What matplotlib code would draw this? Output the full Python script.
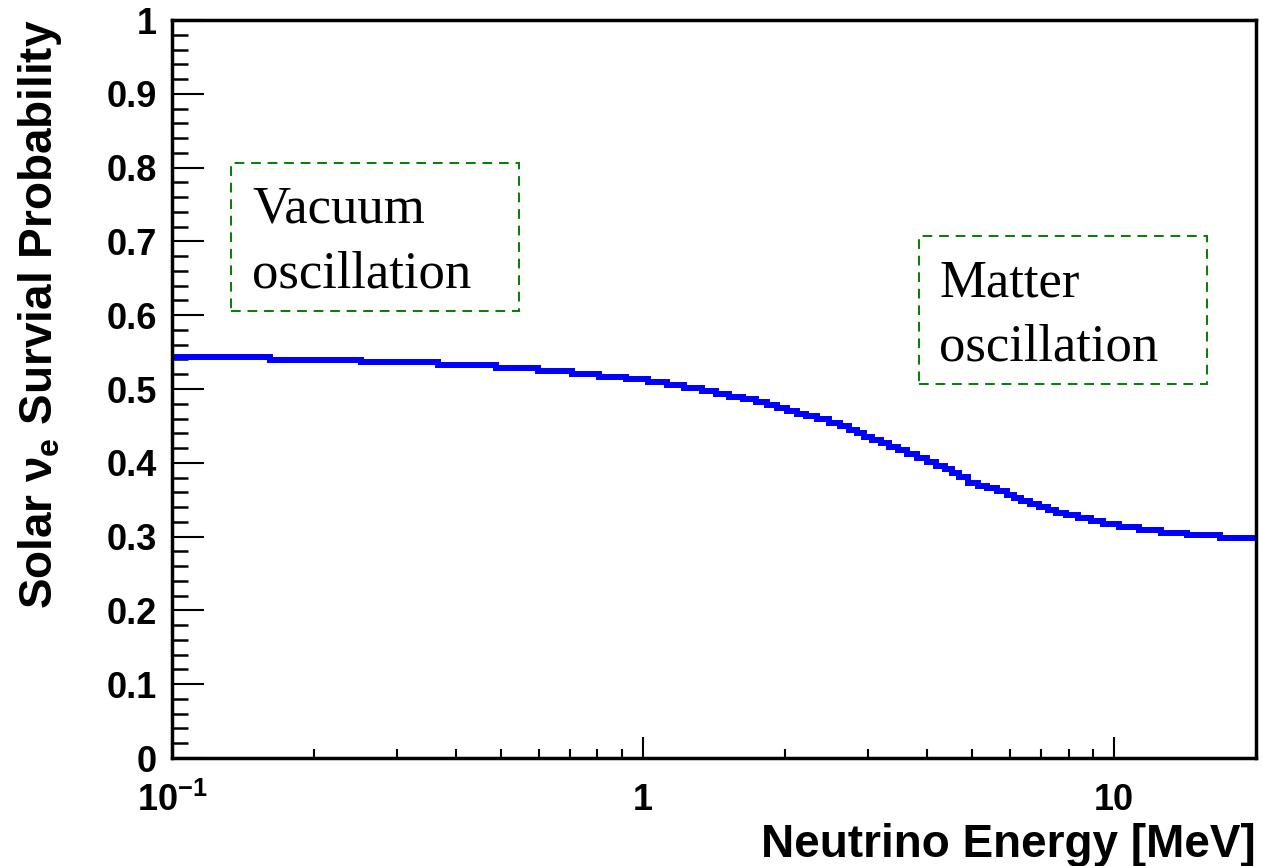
import numpy as np
import matplotlib
matplotlib.use('Agg')
import matplotlib.pyplot as plt
from matplotlib.patches import Rectangle
from matplotlib.ticker import MultipleLocator, LogLocator, FuncFormatter

plt.rcParams['font.family'] = ['Liberation Sans', 'DejaVu Sans']
plt.rcParams['font.weight'] = 'bold'
plt.rcParams['mathtext.fontset'] = 'custom'
plt.rcParams['mathtext.rm'] = 'Liberation Sans:bold'
plt.rcParams['mathtext.it'] = 'Liberation Sans:bold'
plt.rcParams['mathtext.bf'] = 'Liberation Sans:bold'

# survival probability (energy in MeV)
energy = [0.1, 0.1249, 0.1979, 0.3059, 0.4288, 0.5450, 0.6532, 0.7566, 0.8592,
          0.9758, 1.076, 1.170, 1.277, 1.388, 1.472, 1.569, 1.688, 1.790, 1.880,
          1.974, 2.073, 2.167, 2.276, 2.413, 2.559, 2.688, 2.795, 2.893, 3.008,
          3.128, 3.253, 3.399, 3.535, 3.712, 3.898, 4.094, 4.278, 4.449, 4.604,
          4.742, 5.053, 5.229, 5.491, 5.794, 6.026, 6.205, 6.485, 6.745, 7.084,
          7.366, 7.697, 8.123, 8.614, 9.224, 9.734, 10.73, 11.84, 13.25, 15.27,
          18.21, 20.0]
prob = [0.5438, 0.5438, 0.5393, 0.5362, 0.5322, 0.5285, 0.5248, 0.5207, 0.5167,
        0.5131, 0.5092, 0.5054, 0.5018, 0.4977, 0.4936, 0.4896, 0.4864, 0.4824,
        0.4787, 0.4747, 0.4706, 0.4668, 0.4631, 0.4587, 0.4543, 0.4495, 0.4444,
        0.4400, 0.4356, 0.4309, 0.4264, 0.4218, 0.4173, 0.4115, 0.4061, 0.4015,
        0.3957, 0.3912, 0.3858, 0.3808, 0.3722, 0.3690, 0.3654, 0.3618, 0.3570,
        0.3519, 0.3482, 0.3442, 0.3405, 0.3360, 0.3324, 0.3289, 0.3248, 0.3207,
        0.3171, 0.3134, 0.3093, 0.3053, 0.3018, 0.2981, 0.2981]

vacuum_lines = ['Vacuum', 'oscillation']
matter_lines = ['Matter', 'oscillation']

fig = plt.figure(figsize=(12.63, 8.66), dpi=100)
ax = fig.add_axes([0.1362, 0.1247, 0.8583, 0.8522])

ax.plot(energy, prob, color='#0000ff', lw=4.3, drawstyle='steps-mid',
        solid_joinstyle='miter', solid_capstyle='butt')

ax.set_xscale('log')
ax.set_xlim(0.1, 20)
ax.set_ylim(0, 1)

for s in ax.spines.values():
    s.set_linewidth(2.5)

ax.yaxis.set_major_locator(MultipleLocator(0.1))
ax.yaxis.set_minor_locator(MultipleLocator(0.02))
ax.yaxis.set_major_formatter(FuncFormatter(lambda v, p: '%g' % round(v, 2)))
ax.xaxis.set_major_locator(LogLocator(base=10))
ax.xaxis.set_minor_locator(LogLocator(base=10, subs=np.arange(2, 10)))


def xfmt(v, p):
    if abs(v - 0.1) < 1e-9:
        return r'$10^{-1}$'
    return '%g' % v


ax.xaxis.set_major_formatter(FuncFormatter(xfmt))
ax.xaxis.set_minor_formatter(FuncFormatter(lambda v, p: ''))

ax.tick_params(axis='y', which='major', direction='in', length=23, width=1.5,
               pad=11, labelsize=26)
ax.tick_params(axis='y', which='minor', direction='in', length=11.5, width=1.8)
ax.tick_params(axis='x', which='major', direction='in', length=15, width=1.5,
               pad=18, labelsize=26)
ax.tick_params(axis='x', which='minor', direction='in', length=6.5, width=1.5)

fig.text(1256 / 1263, 9 / 866, 'Neutrino Energy [MeV]', ha='right', va='baseline',
         fontsize=33, fontweight='bold')
fig.text(52 / 1263, 846 / 866, r'Solar $\nu_{e}$ Survial Probability', rotation=90,
         rotation_mode='anchor', ha='right', va='baseline', fontsize=33,
         fontweight='bold')

box_style = dict(fill=False, edgecolor='#008000', lw=1.4, linestyle=(0, (5, 3.5)),
                 transform=ax.transAxes)
ax.add_patch(Rectangle((0.0544, 0.606), 0.2656, 0.200, **box_style))
ax.add_patch(Rectangle((0.689, 0.507), 0.266, 0.200, **box_style))

serif = dict(family='Liberation Serif', fontweight='normal', fontsize=38,
             transform=ax.transAxes, va='baseline', ha='left')
ax.text(0.0738, 0.725, vacuum_lines[0], **serif)
ax.text(0.0738, 0.638, vacuum_lines[1], **serif)
ax.text(0.7076, 0.625, matter_lines[0], **serif)
ax.text(0.7076, 0.539, matter_lines[1], **serif)

fig.savefig('out.png', dpi=100)
